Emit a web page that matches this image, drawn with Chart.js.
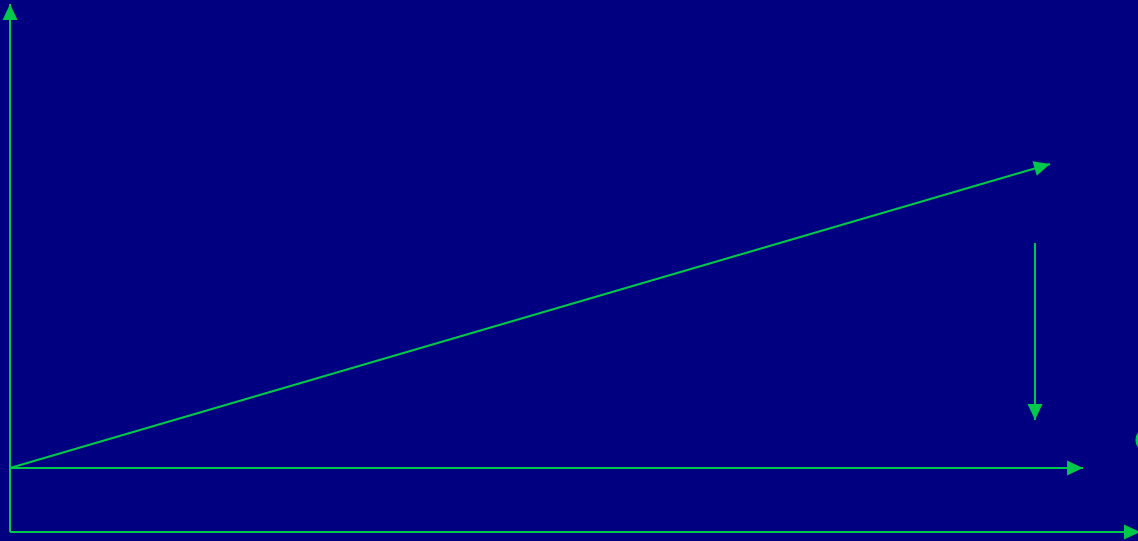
<!DOCTYPE html>
<html>
<head>
<meta charset="utf-8">
<script src="https://cdn.jsdelivr.net/npm/chart.js@4"></script>
<style>
  html, body { margin: 0; padding: 0; background: #000080; overflow: hidden; }
  #wrap { width: 1138px; height: 541px; }
</style>
</head>
<body>
<div id="wrap"><canvas id="chart1" width="1138" height="541"></canvas></div>
<script>
// vectors: start and end points (origin of the diagram at 0,0)
const vectorNames = ['yAxis', 'xAxis', 'horizontal', 'diagonal', 'downward'];
const startX = [0, 0, 0, 0, 1025];
const startY = [-64, -64, 0, 0, 225];
const endX = [0, 1130, 1073, 1040, 1025];
const endY = [464, -64, 0, 304, 48];

// label partly cut off at the right edge
const labelText = ['O'];
const labelX = [1124];
const labelY = [25];

const green = '#00c84a';

const datasets = vectorNames.map(function(name, i) {
    return {
        label: name,
        data: [{x: startX[i], y: startY[i]}, {x: endX[i], y: endY[i]}],
        showLine: true,
        borderColor: green,
        borderWidth: 2,
        pointRadius: 0,
        clip: false
    };
});

// arrowheads + labels
const arrowPlugin = {
    id: 'arrows',
    afterDatasetsDraw(chart) {
        const ctx = chart.ctx;
        const xs = chart.scales.x, ys = chart.scales.y;
        ctx.save();
        ctx.fillStyle = green;
        for (let i = 0; i < vectorNames.length; i++) {
            const x0 = xs.getPixelForValue(startX[i]), y0 = ys.getPixelForValue(startY[i]);
            const x1 = xs.getPixelForValue(endX[i]), y1 = ys.getPixelForValue(endY[i]);
            const a = Math.atan2(y1 - y0, x1 - x0);
            const len = 16, half = 7.5;
            const bx = x1 - len * Math.cos(a), by = y1 - len * Math.sin(a);
            ctx.beginPath();
            ctx.moveTo(x1, y1);
            ctx.lineTo(bx + half * Math.sin(a), by - half * Math.cos(a));
            ctx.lineTo(bx - half * Math.sin(a), by + half * Math.cos(a));
            ctx.closePath();
            ctx.fill();
        }
        ctx.font = '26px "DejaVu Sans"';
        ctx.textBaseline = 'middle';
        for (let j = 0; j < labelText.length; j++) {
            ctx.fillText(labelText[j], xs.getPixelForValue(labelX[j]), ys.getPixelForValue(labelY[j]));
        }
        ctx.restore();
    }
};

const bgPlugin = {
    id: 'bg',
    beforeDraw(chart) {
        const ctx = chart.ctx;
        ctx.save();
        ctx.fillStyle = '#000080';
        ctx.fillRect(0, 0, chart.width, chart.height);
        ctx.restore();
    }
};

new Chart(document.getElementById('chart1').getContext('2d'), {
    type: 'scatter',
    data: { datasets: datasets },
    options: {
        responsive: false,
        animation: false,
        layout: { padding: 0 },
        plugins: { legend: { display: false }, tooltip: { enabled: false } },
        scales: {
            x: { type: 'linear', min: -10, max: 1128, display: false },
            y: { type: 'linear', min: -73, max: 468, display: false }
        }
    },
    plugins: [bgPlugin, arrowPlugin]
});
</script>
</body>
</html>
